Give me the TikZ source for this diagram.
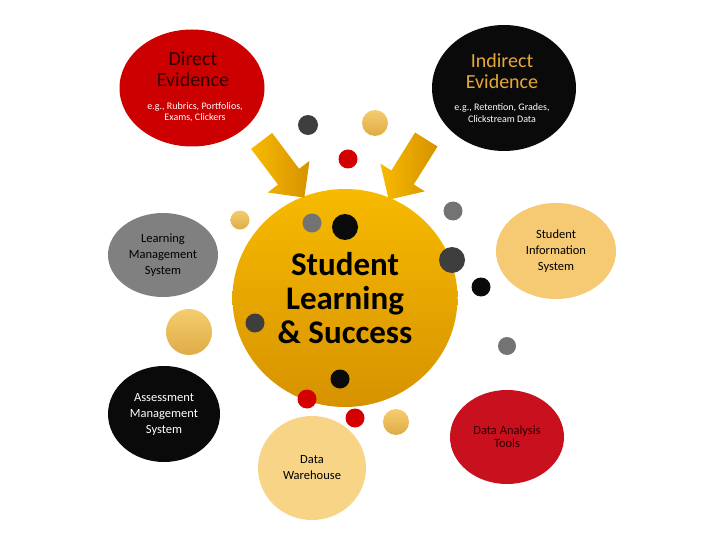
\documentclass[tikz,border=0pt]{standalone}
\usepackage{fontspec}
\setmainfont{Carlito}
\usepackage{tikz}
\usetikzlibrary{shapes.geometric}
\usetikzlibrary{shapes.arrows}
\usepackage{xcolor}
\definecolor{ColRed}{RGB}{204,0,0}
\definecolor{ColRedB}{RGB}{200,16,30}
\definecolor{ColRedDot}{RGB}{212,0,0}
\definecolor{ColBlack}{RGB}{10,10,10}
\definecolor{ColGray}{RGB}{128,128,128}
\definecolor{ColDark}{RGB}{62,62,62}
\definecolor{ColMid}{RGB}{115,115,115}
\definecolor{ColSand}{RGB}{246,202,115}
\definecolor{ColSandB}{RGB}{248,212,135}
\definecolor{ColGoldT}{RGB}{247,186,0}
\definecolor{ColGoldB}{RGB}{214,146,0}
\definecolor{ColDotT}{RGB}{246,204,110}
\definecolor{ColDotB}{RGB}{222,172,70}
\definecolor{ColTitle}{RGB}{232,168,56}
\definecolor{ColInk}{RGB}{45,0,0}
\tikzstyle{Bubble}=[ellipse,inner sep=0pt,align=center,font=\fontsize{12.5}{16}\selectfont]
\tikzstyle{Dot}=[circle,inner sep=0pt]
\tikzstyle{GoldDot}=[Dot,top color=ColDotT,bottom color=ColDotB]
\tikzstyle{Title}=[align=center,font=\fontsize{20}{21}\selectfont]
\tikzstyle{Example}=[align=center,text=white,font=\fontsize{10}{11.5}\selectfont]
\tikzstyle{BigArrow}=[single arrow,inner xsep=0pt,inner ysep=13pt,minimum height=71pt,
single arrow head extend=13pt,left color=ColGoldT,right color=ColGoldB]

\begin{document}
\begin{tikzpicture}[x=1pt,y=-1pt]
        \useasboundingbox(0,0)rectangle(720,540);
        \node[Bubble,fill=ColRed,minimum width=145pt,minimum height=117pt](Direct)at(192,88){};
        \node[Title,text=ColInk](DirectTitle)at(193,69){Direct\\Evidence};
        \node[Example](DirectEx)at(195,112){e.g., Rubrics, Portfolios,\\Exams, Clickers};
        \node[Bubble,fill=ColBlack,minimum width=144pt,minimum height=126pt](Indirect)at(504,88){};
        \node[Title,text=ColTitle](IndirectTitle)at(502,71){Indirect\\Evidence};
        \node[Example](IndirectEx)at(502,113){e.g., Retention, Grades,\\Clickstream Data};
        \node[Bubble,fill=ColGray,minimum width=110pt,minimum height=84pt](LMS)at(163,255){Learning\\Management\\System};
        \node[Bubble,fill=ColSand,minimum width=120pt,minimum height=96pt](SIS)at(556,251){Student\\Information\\System};
        \node[Bubble,fill=ColBlack,text=white,minimum width=112pt,minimum height=96pt](AMS)at(164,414){Assessment\\Management\\System};
        \node[Bubble,fill=ColRedB,text=ColInk,minimum width=114pt,minimum height=94pt,
        font=\fontsize{12.5}{13}\selectfont](DAT)at(507,437){Data Analysis\\Tools};
        \node[Bubble,fill=ColSandB,minimum width=108pt,minimum height=104pt](DW)at(312,468){Data\\Warehouse};
        \node[Bubble,top color=ColGoldT,bottom color=ColGoldB,minimum width=225pt,minimum height=218pt,
        font=\fontsize{33}{34}\selectfont\bfseries](Core)at(345,298){Student\\Learning\\\& Success};
        \node[BigArrow,rotate=-53](ArrowL)at(279,164){};
        \node[BigArrow,rotate=-122](ArrowR)at(411,164){};
        \node[Dot,fill=ColDark,minimum size=20pt](p1)at(308,125){};
        \node[GoldDot,minimum size=26pt](p2)at(375,123){};
        \node[Dot,fill=ColRedDot,minimum size=19pt](p3)at(348,159){};
        \node[GoldDot,minimum size=19pt](p4)at(240,220){};
        \node[Dot,fill=ColMid,minimum size=19pt](p5)at(312,223){};
        \node[Dot,fill=ColBlack,minimum size=26pt](p6)at(345,227){};
        \node[Dot,fill=ColMid,minimum size=19pt](p7)at(453,211){};
        \node[Dot,fill=ColDark,minimum size=26pt](p8)at(452,260){};
        \node[Dot,fill=ColBlack,minimum size=19pt](p9)at(481,287){};
        \node[Dot,fill=ColMid,minimum size=18pt](p10)at(507,346){};
        \node[Dot,fill=ColDark,minimum size=19pt](p11)at(255,323){};
        \node[GoldDot,minimum size=46pt](p12)at(189,332){};
        \node[Dot,fill=ColBlack,minimum size=19pt](p13)at(340,379){};
        \node[Dot,fill=ColRedDot,minimum size=19pt](p14)at(307,399){};
        \node[Dot,fill=ColRedDot,minimum size=19pt](p15)at(355,418){};
        \node[GoldDot,minimum size=26pt](p16)at(396,422){};
\end{tikzpicture}
\end{document}
